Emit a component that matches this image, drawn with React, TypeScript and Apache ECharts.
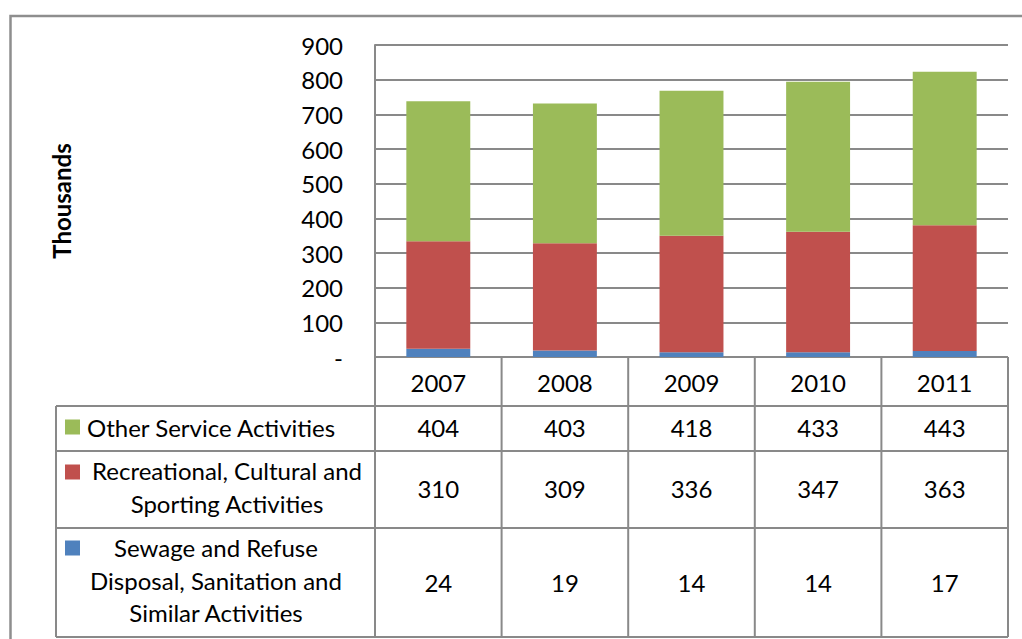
import React, { useEffect, useRef } from "react";
import * as echarts from "echarts";

const years = ["2007", "2008", "2009", "2010", "2011"];
const otherService = [404, 403, 418, 433, 443];
const recreational = [310, 309, 336, 347, 363];
const sewage = [24, 19, 14, 14, 17];
const seriesNames = [
  "Other Service Activities",
  "Recreational, Cultural and\nSporting Activities",
  "Sewage and Refuse\nDisposal, Sanitation and\nSimilar Activities",
];
const yAxisTitle = "Thousands";

const GREEN = "#9BBB59";
const RED = "#C0504D";
const BLUE = "#4F81BD";
const LINE = "#898989";
const FONT = "Lato, 'Open Sans', sans-serif";
const FS = 24;

export default function App() {
  const ref = useRef<HTMLDivElement>(null);
  useEffect(() => {
    if (!ref.current) return;
    const chart = echarts.init(ref.current, undefined, { renderer: "svg" });

    const gLeft = 375;
    const gRight = 1008;
    const gTop = 45;
    const gBottom = 357;
    const colW = (gRight - gLeft) / years.length;
    const tableLeft = 56;
    const rowYs = [357, 406, 451, 528, 637];

    const graphics: any[] = [];
    const line = (x1: number, y1: number, x2: number, y2: number, w = 2) =>
      graphics.push({
        type: "line",
        shape: { x1, y1, x2, y2 },
        style: { stroke: LINE, lineWidth: w },
        silent: true,
      });
    const text = (t: string, x: number, y: number, extra: any = {}) =>
      graphics.push({
        type: "text",
        x,
        y,
        style: {
          text: t,
          x: 0,
          y: 0,
          fill: "#000",
          fontSize: FS,
          fontFamily: FONT,
          align: "center",
          textAlign: "center",
          verticalAlign: "middle",
          textVerticalAlign: "middle",
          lineHeight: 32.5,
          ...extra.style,
        },
        ...(extra.el || {}),
      });

    // outer frame
    graphics.push({
      type: "rect",
      shape: { x: 10.5, y: 16, width: 1200, height: 800 },
      style: { fill: "none", stroke: "#8e8e8e", lineWidth: 2.5 },
      silent: true,
    });

    // table horizontal lines
    line(gLeft, rowYs[0], gRight, rowYs[0]);
    for (let i = 1; i < rowYs.length; i++) line(tableLeft, rowYs[i], gRight, rowYs[i]);
    // table vertical lines
    line(tableLeft, rowYs[1], tableLeft, rowYs[4]);
    for (let i = 0; i <= years.length; i++) {
      const x = gLeft + i * colW;
      line(x, rowYs[0], x, rowYs[4]);
    }

    // year header
    years.forEach((y, i) => text(y, gLeft + (i + 0.5) * colW, 382));

    const rowData = [otherService, recreational, sewage];
    const rowColors = [GREEN, RED, BLUE];
    const rowCenters = [427, 488, 582];
    const keyCenters = [427, 472, 548];
    const labelCenters = [
      { x: 87, y: 427, align: "left" },
      { x: 227, y: 487, align: "center" },
      { x: 216, y: 580, align: "center" },
    ];
    rowData.forEach((arr, r) => {
      arr.forEach((v, i) => text(String(v), gLeft + (i + 0.5) * colW, rowCenters[r]));
      graphics.push({
        type: "rect",
        shape: { x: 65, y: keyCenters[r] - 7.5, width: 15, height: 15 },
        style: { fill: rowColors[r] },
        silent: true,
      });
      const lc = labelCenters[r];
      text(seriesNames[r], lc.x, lc.y, {
        style: { align: lc.align, textAlign: lc.align },
      });
    });

    // y axis title
    text(yAxisTitle, 61, 201, {
      style: { fontWeight: "bold", fontSize: 24 },
      el: { rotation: Math.PI / 2 },
    });

    chart.setOption({
      animation: false,
      grid: { left: gLeft, right: 1022 - gRight, top: gTop, bottom: 639 - gBottom, containLabel: false },
      xAxis: {
        type: "category",
        data: years,
        axisLine: { show: false },
        axisTick: { show: false },
        axisLabel: { show: false },
        splitLine: { show: false },
      },
      yAxis: {
        type: "value",
        min: 0,
        max: 900,
        interval: 100,
        axisLine: { show: true, lineStyle: { color: LINE, width: 2 } },
        axisTick: { show: false },
        splitLine: { show: true, lineStyle: { color: LINE, width: 2 } },
        axisLabel: {
          color: "#000",
          fontSize: FS,
          fontFamily: FONT,
          margin: 32,
          formatter: (v: number) => (v === 0 ? "-" : String(v)),
        },
      },
      series: [
        { name: "Sewage", type: "bar", stack: "total", data: sewage, barWidth: "50.5%", itemStyle: { color: BLUE } },
        { name: "Recreational", type: "bar", stack: "total", data: recreational, itemStyle: { color: RED } },
        { name: "Other", type: "bar", stack: "total", data: otherService, itemStyle: { color: GREEN } },
      ],
      graphic: graphics,
    });
    return () => chart.dispose();
  }, []);
  return (
    <div
      ref={ref}
      style={{ position: "fixed", left: 0, top: 0, width: 1022, height: 639, background: "#fff" }}
    />
  );
}
